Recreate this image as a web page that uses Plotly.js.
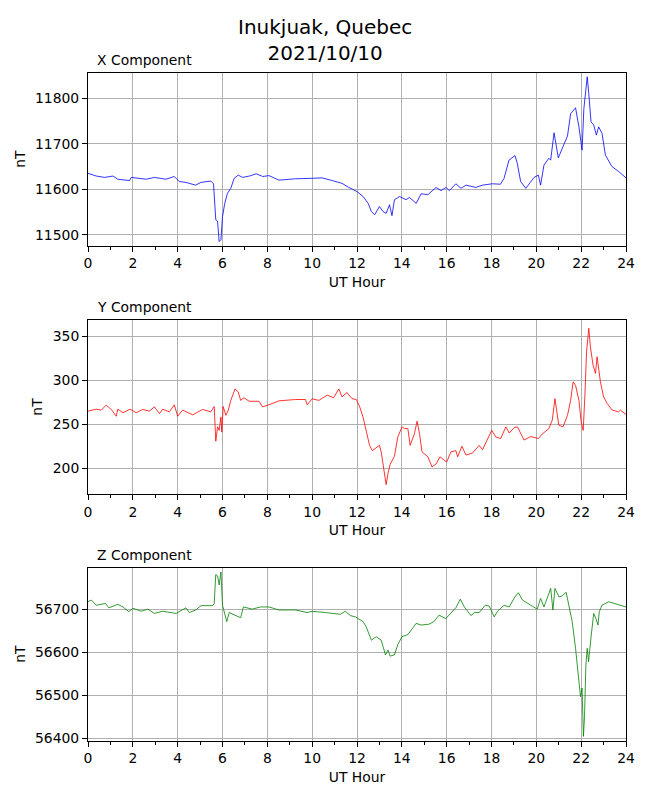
<!DOCTYPE html>
<html>
<head>
<meta charset="utf-8">
<script src="https://cdn.plot.ly/plotly-3.0.1.min.js"></script>
<style>
  body { margin: 0; background: #fff; }
  #chart { width: 650px; height: 800px; }
</style>
</head>
<body>
<div id="chart"></div>
<script>
// values, hours UT
var xHours = [0, 0.37, 0.74, 1.11, 1.33, 1.85, 1.93, 2.3, 2.6, 2.96, 3.48, 3.85, 4.07, 4.37, 4.8, 5.04, 5.48, 5.6, 5.7, 5.78,
    5.85, 5.93, 6.0, 6.1, 6.22, 6.37, 6.52, 6.7, 6.9, 7.2, 7.5, 7.8, 8.07, 8.52, 9.26, 10.0, 10.44, 10.9, 11.33, 11.63,
    11.85, 12.0, 12.27, 12.5, 12.64, 12.79, 13.0, 13.16, 13.3, 13.45, 13.56, 13.67, 13.9, 14.19, 14.34, 14.64, 14.86, 15.16, 15.53, 15.75,
    15.97, 16.12, 16.41, 16.64, 16.86, 17.3, 17.6, 18.04, 18.4, 18.56, 18.78, 19.05, 19.15, 19.3, 19.53, 19.75, 19.9, 20.09, 20.19, 20.34,
    20.56, 20.64, 20.79, 20.98, 21.16, 21.39, 21.53, 21.75, 21.9, 22.04, 22.12, 22.16, 22.27, 22.34, 22.44, 22.56, 22.68, 22.78, 22.93, 23.08,
    23.37, 23.67, 24.0];
var xValues = [11635, 11629, 11626, 11629, 11622, 11619, 11626, 11624, 11622, 11626, 11622, 11628, 11617, 11615, 11609, 11615, 11618, 11612, 11533, 11530,
    11485, 11489, 11540, 11569, 11591, 11602, 11624, 11631, 11626, 11629, 11634, 11628, 11630, 11620, 11623, 11624, 11625, 11619, 11613, 11604,
    11599, 11595, 11584, 11569, 11551, 11544, 11562, 11551, 11547, 11566, 11542, 11577, 11584, 11577, 11582, 11569, 11590, 11588, 11604, 11597,
    11604, 11597, 11612, 11602, 11609, 11604, 11609, 11612, 11611, 11624, 11664, 11674, 11657, 11617, 11602, 11617, 11626, 11631, 11609, 11653,
    11668, 11664, 11724, 11669, 11691, 11717, 11766, 11779, 11737, 11686, 11777, 11795, 11847, 11810, 11748, 11741, 11719, 11737, 11723, 11675,
    11650, 11639, 11625];

var yHours = [0, 0.37, 0.59, 0.81, 1.04, 1.26, 1.33, 1.56, 1.88, 2.15, 2.44, 2.74, 2.96, 3.19, 3.33, 3.63, 3.85, 4.0, 4.22, 4.67,
    5.11, 5.48, 5.63, 5.7, 5.78, 5.85, 5.93, 5.97, 6.03, 6.15, 6.26, 6.37, 6.56, 6.7, 6.81, 6.96, 7.19, 7.63, 7.78, 8.07,
    8.52, 9.26, 9.7, 9.78, 10.0, 10.3, 10.67, 10.96, 11.19, 11.33, 11.55, 11.78, 11.97, 12.12, 12.27, 12.41, 12.56, 12.68, 12.86, 13.0,
    13.08, 13.19, 13.3, 13.38, 13.48, 13.67, 13.82, 14.01, 14.12, 14.27, 14.37, 14.56, 14.68, 14.79, 14.9, 15.16, 15.35, 15.53, 15.7, 16.0,
    16.19, 16.41, 16.49, 16.68, 16.86, 17.16, 17.45, 17.6, 17.82, 18.01, 18.19, 18.41, 18.64, 18.79, 19.01, 19.16, 19.45, 19.75, 20.09, 20.27,
    20.56, 20.71, 20.83, 21.0, 21.19, 21.39, 21.53, 21.64, 21.75, 21.9, 22.0, 22.09, 22.16, 22.24, 22.34, 22.41, 22.53, 22.64, 22.71, 22.86,
    23.0, 23.16, 23.38, 23.67, 23.75, 24.0];
var yValues = [264.8, 267, 266, 271.6, 266.7, 259, 267, 263, 267, 263, 266.7, 264.8, 269.7, 262, 267, 264, 272, 259, 266, 260.6,
    266.7, 264, 270, 230.7, 247, 243, 258, 241, 270, 260, 266, 277, 290, 286.7, 277, 280, 276, 276, 269.7, 272,
    276.5, 278, 278, 272, 278.8, 277, 283, 280, 290, 281, 286, 279, 278, 269.7, 258, 241, 226, 220, 224, 226,
    218.6, 197.7, 181.4, 194, 204.5, 213.6, 235.6, 247, 245, 245, 226, 239, 253.4, 239, 218.6, 213, 201.5, 205, 213, 207,
    218.6, 220, 213, 225, 215, 217.4, 226, 221, 233.7, 243, 235.6, 233.7, 247, 240, 246, 247, 232, 236, 233.7, 239,
    245, 254.5, 279, 249, 247, 260, 277, 298, 294, 277, 252.7, 243, 279, 332, 358.7, 338, 317, 307.6, 326.5, 298,
    281, 273.5, 266, 264, 266, 261];

var zHours = [0, 0.15, 0.37, 0.59, 0.78, 0.93, 1.11, 1.33, 1.56, 1.82, 2.0, 2.37, 2.67, 2.96, 3.33, 3.93, 4.37, 4.52, 4.81, 5.04,
    5.56, 5.63, 5.7, 5.78, 5.85, 5.93, 6.0, 6.1, 6.19, 6.3, 6.59, 6.81, 6.93, 7.33, 7.7, 8.07, 8.52, 9.26, 9.78, 10.0,
    10.6, 10.9, 11.26, 11.48, 11.7, 11.93, 12.05, 12.27, 12.41, 12.64, 12.86, 13.08, 13.27, 13.38, 13.48, 13.67, 13.82, 14.01, 14.27, 14.64,
    14.86, 15.21, 15.43, 15.66, 15.96, 16.19, 16.41, 16.61, 16.79, 17.08, 17.24, 17.45, 17.72, 17.9, 18.12, 18.27, 18.56, 18.79, 19.04, 19.2,
    19.38, 19.75, 20.04, 20.19, 20.34, 20.56, 20.64, 20.74, 20.83, 21.01, 21.16, 21.33, 21.45, 21.6, 21.75, 21.87, 21.97, 22.04, 22.1, 22.15,
    22.21, 22.27, 22.33, 22.45, 22.56, 22.66, 22.75, 22.81, 22.93, 23.23, 23.53, 24.0];
var zValues = [56717, 56721, 56709, 56711, 56713, 56703, 56707, 56711, 56705, 56694, 56702, 56695, 56700, 56690, 56695, 56690, 56703, 56692, 56698, 56708,
    56708, 56713, 56780, 56777, 56756, 56786, 56709, 56690, 56671, 56692, 56686, 56680, 56705, 56700, 56705, 56705, 56698, 56698, 56692, 56695,
    56692, 56690, 56688, 56695, 56685, 56682, 56678, 56671, 56659, 56628, 56636, 56628, 56594, 56605, 56591, 56594, 56618, 56636, 56641, 56667,
    56663, 56665, 56671, 56686, 56678, 56690, 56703, 56723, 56705, 56685, 56692, 56692, 56709, 56707, 56682, 56695, 56709, 56705, 56728, 56738,
    56721, 56709, 56700, 56725, 56705, 56736, 56748, 56698, 56748, 56728, 56731, 56739, 56705, 56671, 56609, 56540, 56497, 56517, 56405, 56451,
    56570, 56609, 56578, 56640, 56690, 56678, 56663, 56694, 56709, 56717, 56713, 56705];

var panelTitles = ["X Component", "Y Component", "Z Component"];
var stationTitle = "Inukjuak, Quebec<br>2021/10/10";

var font = { family: "DejaVu Sans, sans-serif", size: 13.9, color: "#000" };

var data = [
    { x: xHours, y: xValues, xaxis: 'x', yaxis: 'y', mode: 'lines', line: { color: '#0000ff', width: 0.8 } },
    { x: yHours, y: yValues, xaxis: 'x2', yaxis: 'y2', mode: 'lines', line: { color: '#ff0000', width: 0.8 } },
    { x: zHours, y: zValues, xaxis: 'x3', yaxis: 'y3', mode: 'lines', line: { color: '#008000', width: 0.8 } }
];

function xAxis(anchor) {
    return {
        anchor: anchor,
        domain: [0, 1],
        range: [0, 24],
        dtick: 2,
        tick0: 0,
        ticks: 'outside',
        ticklen: 5,
        tickwidth: 1,
        tickcolor: '#000',
        minor: { dtick: 1, ticks: 'outside', ticklen: 3, tickwidth: 1, tickcolor: '#000', showgrid: false },
        showgrid: true,
        gridcolor: '#b0b0b0',
        gridwidth: 1,
        zeroline: false,
        showline: true,
        linecolor: '#000',
        linewidth: 1,
        mirror: true,
        automargin: false,
        tickfont: font,
        title: { text: 'UT Hour', font: font, standoff: 6 }
    };
}

function yAxis(anchor, domain, range, dtick) {
    return {
        anchor: anchor,
        domain: domain,
        range: range,
        dtick: dtick,
        tick0: 0,
        tickformat: 'd',
        ticks: 'outside',
        ticklen: 5,
        tickwidth: 1,
        tickcolor: '#000',
        showgrid: true,
        gridcolor: '#b0b0b0',
        gridwidth: 1,
        zeroline: false,
        showline: true,
        linecolor: '#000',
        linewidth: 1,
        mirror: true,
        automargin: false,
        tickfont: font,
        title: { text: 'nT', font: font, standoff: 6 }
    };
}

var domains = [[0.6929, 0.9091], [0.3825, 0.6], [0.0741, 0.2904]];

var annotations = [];
for (var i = 0; i < 3; i++) {
    annotations.push({
        text: panelTitles[i],
        xref: 'paper', yref: 'paper',
        x: 0.013, y: domains[i][1],
        xanchor: 'left', yanchor: 'bottom',
        yshift: 3,
        showarrow: false,
        font: font
    });
}

// figure title, two lines centred on the page
annotations.push({
    text: stationTitle,
    xref: 'paper', yref: 'paper',
    x: (325 - 88) / 538, y: 1 - 40 / 800,
    xanchor: 'center', yanchor: 'middle',
    showarrow: false,
    font: { family: "DejaVu Sans, sans-serif", size: 20, color: '#000' }
});

var layout = {
    width: 650,
    height: 800,
    margin: { l: 88, r: 24, t: 0, b: 0 },
    paper_bgcolor: '#fff',
    plot_bgcolor: '#fff',
    showlegend: false,
    font: font,
    xaxis: xAxis('y'),
    yaxis: yAxis('x', domains[0], [11476, 11856], 100),
    xaxis2: xAxis('y2'),
    yaxis2: yAxis('x2', domains[1], [170.8, 368.2], 50),
    xaxis3: xAxis('y3'),
    yaxis3: yAxis('x3', domains[2], [56395, 56796], 100),
    annotations: annotations
};

var config = { displayModeBar: false, staticPlot: true };
Plotly.newPlot('chart', data, layout, config);
</script>
</body>
</html>
